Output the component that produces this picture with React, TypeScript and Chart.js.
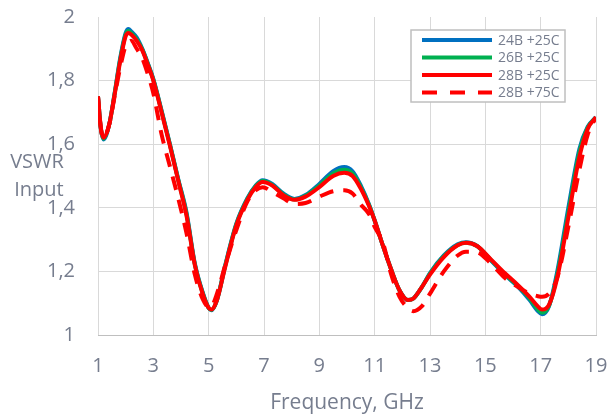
import React, { useEffect, useRef } from "react";
import { Chart, registerables } from "chart.js";

Chart.register(...registerables);

const frequencies = [
  1.0, 1.1, 1.2, 1.4, 1.6, 1.8, 2.0, 2.1, 2.2, 2.4, 2.6, 2.8, 3.0, 3.3, 3.6, 3.9, 4.2, 4.5, 4.8, 5.0,
  5.1, 5.3, 5.6, 6.0, 6.4, 6.7, 6.95, 7.3, 7.7, 8.1, 8.5, 9.0, 9.5, 9.9, 10.2, 10.5, 10.8, 11.0, 11.3,
  11.6, 11.9, 12.2, 12.4, 12.7, 13.0, 13.5, 14.0, 14.3, 14.7, 15.2, 15.7, 16.2, 16.6, 16.9, 17.05, 17.3,
  17.6, 18.0, 18.4, 18.7, 19.0,
];

const vswr24B25C = [
  1.75, 1.65, 1.615, 1.66, 1.76, 1.87, 1.95, 1.962, 1.955, 1.935, 1.9, 1.855, 1.805, 1.705, 1.6, 1.49,
  1.385, 1.225, 1.13, 1.085, 1.078, 1.11, 1.22, 1.35, 1.43, 1.47, 1.487, 1.475, 1.445, 1.428, 1.44,
  1.475, 1.515, 1.528, 1.515, 1.47, 1.41, 1.36, 1.28, 1.205, 1.14, 1.11, 1.115, 1.15, 1.195, 1.25,
  1.285, 1.292, 1.28, 1.235, 1.19, 1.15, 1.11, 1.075, 1.065, 1.09, 1.2, 1.4, 1.585, 1.655, 1.685,
];

const vswr26B25C = [
  1.75, 1.652, 1.617, 1.66, 1.758, 1.865, 1.945, 1.956, 1.95, 1.93, 1.898, 1.853, 1.803, 1.703, 1.598,
  1.488, 1.38, 1.222, 1.128, 1.085, 1.079, 1.11, 1.218, 1.348, 1.428, 1.468, 1.484, 1.472, 1.442, 1.426,
  1.438, 1.47, 1.508, 1.52, 1.508, 1.465, 1.408, 1.36, 1.28, 1.205, 1.14, 1.11, 1.115, 1.15, 1.193,
  1.248, 1.283, 1.29, 1.28, 1.236, 1.192, 1.152, 1.115, 1.08, 1.07, 1.092, 1.19, 1.385, 1.575, 1.652,
  1.685,
];

const vswr28B25C = [
  1.75, 1.655, 1.62, 1.66, 1.755, 1.86, 1.94, 1.95, 1.945, 1.925, 1.895, 1.85, 1.8, 1.7, 1.595, 1.485,
  1.375, 1.22, 1.125, 1.085, 1.08, 1.11, 1.215, 1.345, 1.425, 1.465, 1.481, 1.47, 1.44, 1.425, 1.435,
  1.465, 1.5, 1.51, 1.5, 1.46, 1.405, 1.36, 1.28, 1.205, 1.14, 1.11, 1.115, 1.15, 1.19, 1.245, 1.282,
  1.29, 1.28, 1.238, 1.195, 1.155, 1.12, 1.09, 1.08, 1.095, 1.18, 1.37, 1.56, 1.648, 1.685,
];

const vswr28B75C = [
  1.75, 1.65, 1.62, 1.66, 1.75, 1.84, 1.91, 1.92, 1.925, 1.9, 1.87, 1.82, 1.76, 1.63, 1.53, 1.43, 1.32,
  1.19, 1.11, 1.088, 1.09, 1.13, 1.22, 1.33, 1.42, 1.455, 1.465, 1.45, 1.43, 1.412, 1.415, 1.435, 1.452,
  1.455, 1.445, 1.41, 1.38, 1.34, 1.29, 1.19, 1.12, 1.085, 1.075, 1.09, 1.13, 1.2, 1.25, 1.262, 1.26,
  1.225, 1.18, 1.15, 1.13, 1.122, 1.12, 1.13, 1.18, 1.34, 1.52, 1.63, 1.685,
];

const seriesLabels = ["24B +25C", "26B +25C", "28B +25C", "28B +75C"];
const xTicks = [1, 3, 5, 7, 9, 11, 13, 15, 17, 19];
const yTitleLines = ["VSWR", "Input"];
const xTitle = "Frequency, GHz";

const TEXT = "#767d8e";
const GRID = "#d9d9d9";
const FONT = "'Open Sans', 'Noto Sans', sans-serif";

const seriesStyles = [
  { color: "#0070c0", dash: [] as number[] },
  { color: "#00b050", dash: [] as number[] },
  { color: "#ff0000", dash: [] as number[] },
  { color: "#ff0000", dash: [14, 10] },
];

const overlayPlugin = {
  id: "overlay",
  afterDraw(chart: any) {
    const ctx = chart.ctx;
    ctx.save();
    // y title
    ctx.fillStyle = TEXT;
    ctx.font = `20px ${FONT}`;
    ctx.textAlign = "center";
    ctx.textBaseline = "middle";
    ctx.fillText(yTitleLines[0], 37, 162);
    ctx.fillText(yTitleLines[1], 39, 190);
    // legend
    const bx = 411, by = 30, bw = 154, bh = 72;
    ctx.fillStyle = "#ffffff";
    ctx.fillRect(bx, by, bw, bh);
    ctx.strokeStyle = "#bfbfbf";
    ctx.lineWidth = 1.5;
    ctx.strokeRect(bx, by, bw, bh);
    ctx.font = `14px ${FONT}`;
    ctx.textAlign = "left";
    seriesLabels.forEach((lab, i) => {
      const y = 40 + i * 17.5;
      ctx.beginPath();
      ctx.strokeStyle = seriesStyles[i].color;
      ctx.lineWidth = 4;
      ctx.setLineDash(seriesStyles[i].dash.length ? [15, 13] : []);
      ctx.moveTo(422, y);
      ctx.lineTo(492, y);
      ctx.stroke();
      ctx.setLineDash([]);
      ctx.fillStyle = TEXT;
      ctx.fillText(lab, 498, y + 1);
    });
    ctx.restore();
  },
};

export default function App() {
  const ref = useRef<HTMLCanvasElement>(null);
  useEffect(() => {
    if (!ref.current) return;
    const allSeries = [vswr24B25C, vswr26B25C, vswr28B25C, vswr28B75C];
    const chart = new Chart(ref.current, {
      type: "scatter",
      data: {
        datasets: allSeries.map((vals, i) => ({
          label: seriesLabels[i],
          data: frequencies.map((f, j) => ({ x: f, y: vals[j] })),
          showLine: true,
          borderColor: seriesStyles[i].color,
          backgroundColor: seriesStyles[i].color,
          borderWidth: 4,
          borderDash: seriesStyles[i].dash,
          pointRadius: 0,
          cubicInterpolationMode: "monotone" as const,
          order: 4 - i,
        })),
      },
      options: {
        animation: false,
        responsive: false,
        devicePixelRatio: 1,
        layout: { padding: { left: 0, right: 12, top: 17, bottom: 0 } },
        plugins: { legend: { display: false }, tooltip: { enabled: false } },
        scales: {
          x: {
            type: "linear",
            min: 1,
            max: 19,
            afterBuildTicks: (s: any) => {
              s.ticks = xTicks.map((v) => ({ value: v }));
            },
            afterFit: (s: any) => {
              s.height = 84;
              s.paddingLeft = 0;
              s.paddingRight = 0;
            },
            ticks: {
              color: TEXT,
              font: { family: FONT, size: 20 },
              padding: 19,
              maxRotation: 0,
            },
            grid: { color: GRID, lineWidth: 1, drawTicks: false },
            border: { display: true, color: "#bfbfbf", width: 1 },
            title: {
              display: true,
              text: xTitle,
              color: TEXT,
              font: { family: FONT, size: 21 },
              padding: { top: 0, bottom: 3 },
            },
          },
          y: {
            type: "linear",
            min: 1,
            max: 2,
            afterFit: (s: any) => {
              s.width = 98;
              s.paddingTop = 0;
              s.paddingBottom = 0;
            },
            ticks: {
              stepSize: 0.2,
              color: TEXT,
              font: { family: FONT, size: 20 },
              padding: 23,
              callback: (v: any) => {
                const n = Number(v);
                if (Math.abs(n - Math.round(n)) < 1e-9) return String(Math.round(n));
                return n.toFixed(1).replace(".", ",");
              },
            },
            grid: {
              drawTicks: false,
              lineWidth: 1,
              color: (c: any) => (c.tick && Math.abs(c.tick.value - 2) < 1e-9 ? "rgba(0,0,0,0)" : GRID),
            },
            border: { display: false },
          },
        },
      },
      plugins: [overlayPlugin],
    });
    return () => chart.destroy();
  }, []);
  return (
    <div style={{ position: "absolute", left: 0, top: 0, width: 608, height: 419, background: "#fff" }}>
      <canvas ref={ref} width={608} height={419} style={{ width: 608, height: 419 }} />
    </div>
  );
}
